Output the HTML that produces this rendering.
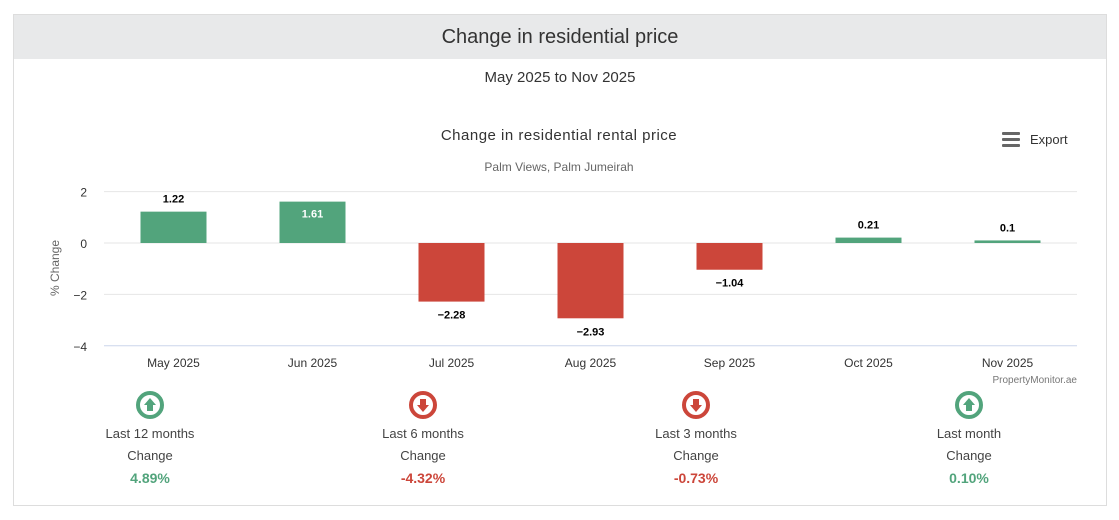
<!DOCTYPE html>
<html><head><meta charset="utf-8"><style>
body{margin:0;width:1119px;height:520px;background:#fff;font-family:"Liberation Sans",sans-serif;position:relative;overflow:hidden}
.box{position:absolute;left:13px;top:14px;width:1092px;height:490px;border:1px solid #ddd}
.hdr{position:absolute;left:0;top:0;width:1092px;height:44px;background:#e8e9ea;text-align:center;line-height:44px;font-size:20px;color:#333}
.sub{position:absolute;left:0;top:54px;width:1092px;text-align:center;font-size:15px;color:#333}
.stat{position:absolute;width:160px;text-align:center;font-size:13px;color:#444}
.stat div{height:22px;line-height:22px}
</style></head><body>
<div class="box">
<div class="hdr">Change in residential price</div>
<div class="sub">May 2025 to Nov 2025</div>
</div>
<svg id="c" width="1119" height="520" style="position:absolute;left:0;top:0"></svg>
<div id="stats"></div>
<script>
const categories=["May 2025","Jun 2025","Jul 2025","Aug 2025","Sep 2025","Oct 2025","Nov 2025"];
const values=[1.22,1.61,-2.28,-2.93,-1.04,0.21,0.1];
const ticks=[2,0,-2,-4];
const statLabels=["Last 12 months","Last 6 months","Last 3 months","Last month"];
const statValues=[4.89,-4.32,-0.73,0.10];
const NS="http://www.w3.org/2000/svg";
const svg=document.getElementById('c');
const x0=104,x1=1077,bw=66;
const y=v=>243-v*25.7;
const xc=i=>x0+(x1-x0)/categories.length*(i+0.5);
function mk(t,a,txt){const e=document.createElementNS(NS,t);for(const k in a)e.setAttribute(k,a[k]);if(txt!==undefined)e.textContent=txt;svg.appendChild(e);return e;}
let e;
e=mk('text',{x:559,y:140,'text-anchor':'middle','font-size':15,fill:'#333','letter-spacing':'0.5'},'Change in residential rental price');


e=mk('text',{x:559,y:171,'text-anchor':'middle','font-size':12,fill:'#666'},'Palm Views, Palm Jumeirah');


e=mk('text',{x:1030,y:144,'font-size':13,fill:'#333'},'Export');


for(let k=0;k<3;k++){e=mk('rect',{x:1002,y:132+k*6,width:18,height:3,rx:1,fill:'#666'});}
ticks.forEach(t=>{
 e=mk('line',{x1:x0,x2:x1,y1:y(t),y2:y(t),stroke:t===-4?'#ccd6eb':'#e6e6e6'});
 
 
 e=mk('text',{x:87,y:y(t)+5,'text-anchor':'end','font-size':12,fill:'#333'},t<0?'−'+(-t):String(t));
 
 
});
e=mk('text',{x:0,y:0,'font-size':12,fill:'#666','text-anchor':'middle',transform:'translate(59,268) rotate(-90)'},'% Change');


categories.forEach((c,i)=>{
 const v=values[i],cx=xc(i);
 const top=Math.min(y(v),y(0)),h=Math.abs(y(v)-y(0));
 e=mk('rect',{x:cx-bw/2,y:top,width:bw,height:Math.max(h,1),fill:v>=0?'#52a47c':'#cc463a'});
 
 
 const inside=v>=0&&h>36;
 const ly=v>=0?(inside?top+16:top-9):top+h+17;
 e=mk('text',{x:cx,y:ly,'text-anchor':'middle','font-size':11,'font-weight':'bold',fill:inside?'#fff':'#000'},(v<0?'−'+(-v):String(v)));
 
 
 e=mk('text',{x:cx,y:367,'text-anchor':'middle','font-size':12,fill:'#333'},c);
 
 
});
e=mk('text',{x:1077,y:383,'text-anchor':'end','font-size':10,fill:'#777'},'PropertyMonitor.ae');


const sx=[150,423,696,969];
statValues.forEach((v,i)=>{
 const up=v>=0,col=up?'#52a47c':'#cc463a',cx=sx[i],cy=405;
 e=mk('circle',{cx:cx,cy:cy,r:12,fill:'none',stroke:col,'stroke-width':4});
 
 
 const d=up?`M${cx} ${cy-7}L${cx+6} ${cy}H${cx+3}V${cy+6}H${cx-3}V${cy}H${cx-6}Z`:`M${cx} ${cy+7}L${cx+6} ${cy}H${cx+3}V${cy-6}H${cx-3}V${cy}H${cx-6}Z`;
 e=mk('path',{d:d,fill:col});
 
 
 const s=document.createElement('div');
 s.className='stat';s.style.left=(cx-80)+'px';s.style.top='423px';
 s.innerHTML=`<div>${statLabels[i]}</div><div>Change</div><div style="color:${col};font-weight:bold;font-size:14px">${v.toFixed(2)}%</div>`;
 
 
 document.body.appendChild(s);
});
</script>
</body></html>
